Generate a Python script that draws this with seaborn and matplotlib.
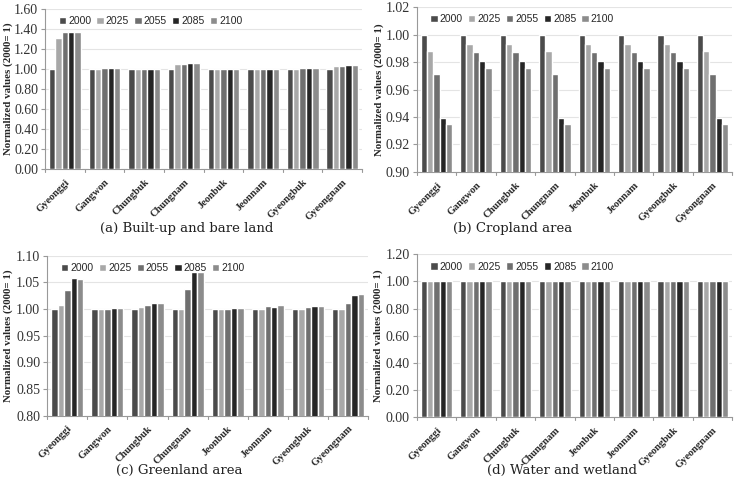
import pandas as pd
import seaborn as sns
import matplotlib.pyplot as plt
import matplotlib.transforms as mtransforms

sns.set_style("white")

regions = ["Gyeonggi", "Gangwon", "Chungbuk", "Chungnam",
           "Jeonbuk", "Jeonnam", "Gyeongbuk", "Gyeongnam"]
years = ["2000", "2025", "2055", "2085", "2100"]
year_colors = ["#4b4b4b", "#a8a8a8", "#6f6f6f", "#262626", "#8c8c8c"]

# values per region, one entry per year (2000, 2025, 2055, 2085, 2100)
built_up = [
    [1.00, 1.31, 1.37, 1.37, 1.37],
    [1.00, 1.00, 1.01, 1.01, 1.01],
    [1.00, 1.00, 1.00, 1.00, 1.00],
    [1.00, 1.05, 1.05, 1.06, 1.06],
    [1.00, 1.00, 1.00, 1.00, 1.00],
    [1.00, 1.00, 1.00, 1.00, 1.00],
    [1.00, 1.00, 1.01, 1.01, 1.01],
    [1.00, 1.03, 1.03, 1.04, 1.04],
]
cropland = [
    [1.000, 0.988, 0.971, 0.939, 0.935],
    [1.000, 0.993, 0.987, 0.981, 0.976],
    [1.000, 0.993, 0.987, 0.981, 0.976],
    [1.000, 0.988, 0.971, 0.939, 0.935],
    [1.000, 0.993, 0.987, 0.981, 0.976],
    [1.000, 0.993, 0.987, 0.981, 0.976],
    [1.000, 0.993, 0.987, 0.981, 0.976],
    [1.000, 0.988, 0.971, 0.939, 0.935],
]
greenland = [
    [1.000, 1.008, 1.035, 1.058, 1.057],
    [1.000, 1.001, 1.001, 1.002, 1.002],
    [1.000, 1.004, 1.008, 1.011, 1.011],
    [1.000, 1.000, 1.037, 1.069, 1.070],
    [1.000, 1.000, 1.001, 1.002, 1.003],
    [1.000, 1.001, 1.005, 1.004, 1.007],
    [1.000, 1.000, 1.004, 1.005, 1.006],
    [1.000, 1.001, 1.012, 1.026, 1.028],
]
water = [
    [1.00, 1.00, 1.00, 1.00, 1.00],
    [1.00, 1.00, 1.00, 1.00, 1.00],
    [1.00, 1.00, 1.00, 1.00, 1.00],
    [1.00, 1.00, 1.00, 1.00, 1.00],
    [1.00, 1.00, 1.00, 1.00, 1.00],
    [1.00, 1.00, 1.00, 1.00, 1.00],
    [1.00, 1.00, 1.00, 1.00, 1.00],
    [1.00, 1.00, 1.00, 1.00, 1.00],
]

# data, y range, tick step, caption, axes rect, caption pos, ylabel x (fig frac)
panels = [
    (built_up, (0.0, 1.60), 0.20, "(a) Built-up and bare land",
     [0.061, 0.647, 0.429, 0.334], (0.253, 0.524), 0.017),
    (cropland, (0.90, 1.02), 0.02, "(b) Cropland area",
     [0.564, 0.641, 0.427, 0.344], (0.694, 0.524), 0.519),
    (greenland, (0.80, 1.10), 0.05, "(c) Greenland area",
     [0.064, 0.132, 0.434, 0.334], (0.242, 0.018), 0.018),
    (water, (0.0, 1.20), 0.20, "(d) Water and wetland",
     [0.564, 0.129, 0.427, 0.340], (0.760, 0.018), 0.518),
]

serif = ["Liberation Serif", "DejaVu Serif"]
fig = plt.figure(figsize=(7.39, 4.79), dpi=100)

for values, ylim, step, caption, rect, cap_pos, ylab_x in panels:
    rows = []
    for region, vals in zip(regions, values):
        for year, v in zip(years, vals):
            rows.append({"region": region, "year": year, "value": v})
    df = pd.DataFrame(rows)

    ax = fig.add_axes(rect)
    sns.barplot(data=df, x="region", y="value", hue="year", order=regions,
                hue_order=years, palette=year_colors, width=0.8,
                saturation=1, errorbar=None, ax=ax, zorder=3)
    ax.set_ylim(*ylim)
    ticks = []
    t = ylim[0]
    while t <= ylim[1] + 1e-9:
        ticks.append(round(t, 4))
        t += step
    ax.set_yticks(ticks)
    ax.set_yticklabels(["{:.2f}".format(v) for v in ticks], family=serif,
                       fontsize=10, color="#333333")
    ax.yaxis.grid(True, color="#e4e4e4", linewidth=0.8, zorder=0)
    ax.set_xlim(-0.5, len(regions) - 0.5)
    ax.set_xticks(range(len(regions)))
    ax.set_xticklabels(regions, rotation=45, ha="right", rotation_mode="anchor",
                       family=serif, fontweight="bold", fontsize=7.5)
    ax.tick_params(axis="x", length=0, pad=6)
    ax.tick_params(axis="y", length=3, color="#999999", left=True, pad=2)
    for k in range(len(regions) + 1):
        ax.plot([k - 0.5, k - 0.5], [0, -0.02], transform=ax.get_xaxis_transform(),
                color="#999999", linewidth=0.8, clip_on=False)
    ax.set_xlabel("")
    ax.set_ylabel("Normalized values (2000= 1)", family=serif, fontweight="bold",
                  fontsize=7.8)
    ax.yaxis.set_label_coords(
        ylab_x, 0.5,
        transform=mtransforms.blended_transform_factory(fig.transFigure, ax.transAxes))
    for side in ["top", "right"]:
        ax.spines[side].set_visible(False)
    for side in ["left", "bottom"]:
        ax.spines[side].set_color("#999999")
        ax.spines[side].set_linewidth(0.8)
    ax.legend(loc="upper left", ncol=5, frameon=False,
              prop={"family": "Liberation Sans", "size": 7.5},
              handlelength=0.7, handleheight=0.7, handletextpad=0.2,
              columnspacing=0.5, borderaxespad=0.3, bbox_to_anchor=(0.02, 1.0))
    fig.text(cap_pos[0], cap_pos[1], caption, ha="center", va="center",
             family=["DejaVu Serif"], fontsize=9.5, color="#222222")

fig.savefig("out.png", dpi=100)
